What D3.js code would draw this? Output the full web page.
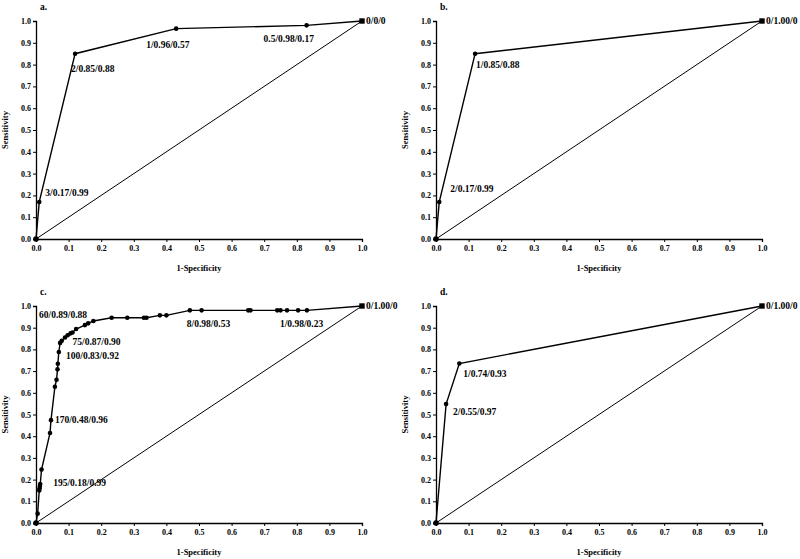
<!DOCTYPE html>
<html><head><meta charset="utf-8">
<script src="https://cdn.jsdelivr.net/npm/d3@7"></script>
<style>
body{margin:0;background:#fff;}
svg text{font-family:"Liberation Serif","Times New Roman",serif;font-weight:bold;fill:#000;}
</style></head>
<body><svg id="chart" width="800" height="559"></svg>
<script>
// ---------- data ----------
const xTicks = [0,0.1,0.2,0.3,0.4,0.5,0.6,0.7,0.8,0.9,1.0];
const yTicks = [0,0.1,0.2,0.3,0.4,0.5,0.6,0.7,0.8,0.9,1.0];
const panelNames = ["a.","b.","c.","d."];
const xTitle = "1-Specificity";
const yTitle = "Sensitivity";

const aX = [0, 0.01, 0.12, 0.43, 0.83, 1];
const aY = [0, 0.17, 0.85, 0.965, 0.98, 1];
const aLabels = ["3/0.17/0.99","2/0.85/0.88","1/0.96/0.57","0.5/0.98/0.17","0/0/0"];

const bX = [0, 0.01, 0.12, 1];
const bY = [0, 0.17, 0.85, 1];
const bLabels = ["2/0.17/0.99","1/0.85/0.88","0/1.00/0"];

const cX = [0,0.005,0.010,0.011,0.012,0.013,0.017,0.043,0.046,0.058,0.063,0.066,0.067,0.070,0.074,0.079,0.089,0.097,0.106,0.112,0.123,0.150,0.160,0.176,0.232,0.280,0.331,0.339,0.380,0.400,0.472,0.508,0.651,0.658,0.740,0.750,0.770,0.804,0.831,1];
const cY = [0,0.043,0.150,0.160,0.170,0.180,0.246,0.415,0.474,0.628,0.660,0.708,0.734,0.788,0.830,0.840,0.855,0.865,0.874,0.878,0.894,0.912,0.920,0.931,0.946,0.946,0.946,0.946,0.957,0.957,0.980,0.980,0.980,0.980,0.980,0.980,0.980,0.980,0.980,1];
const cLabels = ["195/0.18/0.99","170/0.48/0.96","100/0.83/0.92","75/0.87/0.90","60/0.89/0.88","8/0.98/0.53","1/0.98/0.23","0/1.00/0"];

const dX = [0, 0.031, 0.0715, 1];
const dY = [0, 0.548, 0.735, 1];
const dLabels = ["2/0.55/0.97","1/0.74/0.93","0/1.00/0"];

// ---------- layout ----------
const panels = [
  {name:panelNames[0], xs:aX, ys:aY, labels:aLabels, x0:36, x1:362, y0:239, y1:21,
   anchors:[[1,6,-6],[2,-4,18],[3,-30,19],[4,-43,17],[5,4,3]]},
  {name:panelNames[1], xs:bX, ys:bY, labels:bLabels, x0:436, x1:762, y0:239, y1:21,
   anchors:[[1,11,-10],[2,1,14],[3,4,3]]},
  {name:panelNames[2], xs:cX, ys:cY, labels:cLabels, x0:36, x1:362, y0:523, y1:306,
   anchors:[[5,13,2],[8,4,3],[14,6,16],[18,2,12],[20,-37,-11],[30,-3,17],[38,-27,17],[39,4,3]]},
  {name:panelNames[3], xs:dX, ys:dY, labels:dLabels, x0:436, x1:762, y0:523, y1:306,
   anchors:[[1,7,11],[2,4,13],[3,4,3]]}
];

const svg = d3.select("#chart");

panels.forEach(p => {
  const x = d3.scaleLinear().domain([0,1]).range([p.x0,p.x1]);
  const y = d3.scaleLinear().domain([0,1]).range([p.y0,p.y1]);
  const g = svg.append("g");

  // axes
  const xa = g.append("g").attr("transform",`translate(0,${p.y0})`)
    .call(d3.axisBottom(x).tickValues(xTicks).tickFormat(d3.format(".1f")).tickSize(3).tickPadding(3));
  const ya = g.append("g").attr("transform",`translate(${p.x0},0)`)
    .call(d3.axisLeft(y).tickValues(yTicks).tickFormat(d3.format(".1f")).tickSize(3).tickPadding(2));
  [xa,ya].forEach(a=>{
    a.select(".domain").attr("stroke","#000").attr("stroke-width",1.3);
    a.selectAll(".tick line").attr("stroke","#000").attr("stroke-width",1);
    a.selectAll(".tick text").style("font-size","8px").style("font-family","Liberation Serif").style("font-weight","bold");
  });

  // diagonal reference
  g.append("line").attr("x1",x(0)).attr("y1",y(0)).attr("x2",x(1)).attr("y2",y(1))
    .attr("stroke","#000").attr("stroke-width",1);

  const pts = p.xs.map((v,i)=>[v,p.ys[i]]);
  g.append("path").datum(pts)
    .attr("d", d3.line().x(d=>x(d[0])).y(d=>y(d[1])))
    .attr("fill","none").attr("stroke","#000").attr("stroke-width",1.4);

  const last = pts.length-1;
  g.selectAll("circle.pt").data(pts.filter((d,i)=>i!==last)).enter().append("circle")
    .attr("cx",d=>x(d[0])).attr("cy",d=>y(d[1])).attr("r",(d,i)=>i===0?2.8:2.3).attr("fill","#000");
  g.append("rect").attr("x",x(pts[last][0])-2.7).attr("y",y(pts[last][1])-2.7)
    .attr("width",5.4).attr("height",5.4).attr("fill","#000");

  // annotations
  p.anchors.forEach((a,k)=>{
    const d = pts[a[0]];
    g.append("text").attr("x",x(d[0])+a[1]).attr("y",y(d[1])+a[2])
      .style("font-size","9.5px").text(p.labels[k]);
  });

  // panel letter
  g.append("text").attr("x",p.x0+4).attr("y",p.y1-11).style("font-size","9.5px").text(p.name);

  // titles
  g.append("text").attr("x",(p.x0+p.x1)/2 - 0).attr("y",p.y0+32).attr("text-anchor","middle")
    .style("font-size","8.5px").text(xTitle);
  g.append("text").attr("transform",`translate(${p.x0-28},${(p.y0+p.y1)/2}) rotate(-90)`)
    .attr("text-anchor","middle").style("font-size","8.5px").text(yTitle);
});
</script></body></html>
